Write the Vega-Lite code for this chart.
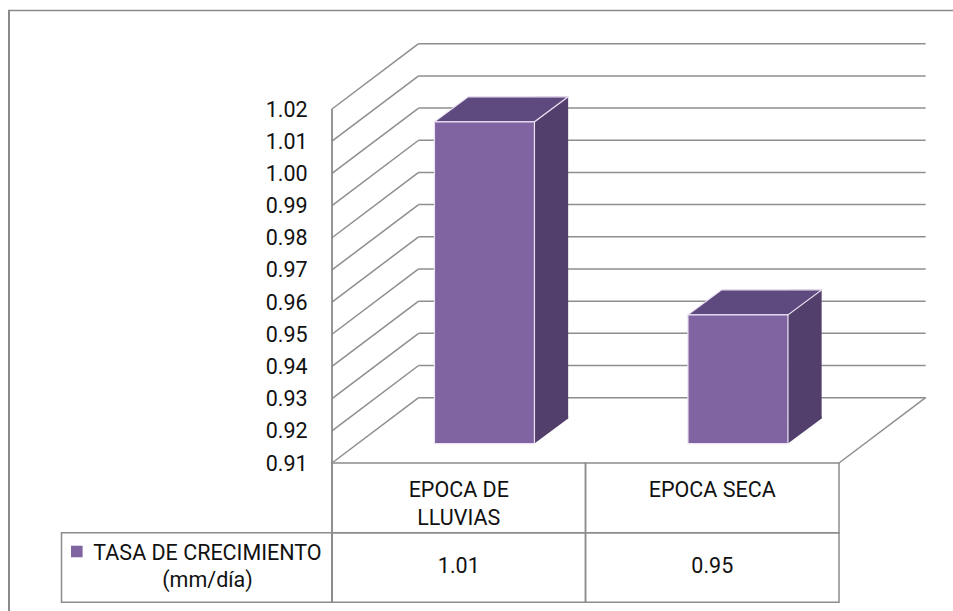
{
  "$schema": "https://vega.github.io/schema/vega-lite/v6.json",
  "width": 507,
  "height": 354,
  "autosize": {"type": "none"},
  "padding": {"left": 332, "top": 109, "right": 114, "bottom": 148},
  "background": "white",
  "config": {
    "view": {"stroke": null},
    "font": "Roboto"
  },
  "datasets": {
    "tasa": [
      {"epoca": "EPOCA DE LLUVIAS", "tasa": 1.01},
      {"epoca": "EPOCA SECA", "tasa": 0.95}
    ],
    "marcas": [
      {"v": 0.91}, {"v": 0.92}, {"v": 0.93}, {"v": 0.94}, {"v": 0.95}, {"v": 0.96},
      {"v": 0.97}, {"v": 0.98}, {"v": 0.99}, {"v": 1.0}, {"v": 1.01}, {"v": 1.02}
    ]
  },
  "layer": [
    {
      "description": "outer frame, left edge",
      "data": {"values": [{}]},
      "mark": {"type": "rule", "color": "#8a8a8a", "strokeWidth": 2, "xOffset": -323, "x2Offset": -323, "yOffset": -99, "y2Offset": 148},
      "encoding": {
        "x": {"datum": "EPOCA DE LLUVIAS", "bandPosition": 0, "scale": {"type": "band", "domain": ["EPOCA DE LLUVIAS", "EPOCA SECA"], "paddingInner": 0, "paddingOuter": 0}, "axis": null},
        "y": {"datum": 1.02, "scale": {"domain": [0.91, 1.02], "zero": false, "nice": false}, "axis": null},
        "y2": {"datum": 0.91}
      }
    },
    {
      "description": "outer frame, top edge",
      "data": {"values": [{}]},
      "mark": {"type": "rule", "color": "#8a8a8a", "strokeWidth": 1.5, "xOffset": -324, "x2Offset": 114, "yOffset": -98.5},
      "encoding": {
        "x": {"datum": "EPOCA DE LLUVIAS", "bandPosition": 0, "axis": null},
        "x2": {"datum": "EPOCA SECA", "bandPosition": 1},
        "y": {"datum": 1.02, "axis": null}
      }
    },
    {
      "description": "back wall gridlines",
      "data": {"name": "marcas"},
      "mark": {"type": "rule", "color": "#8e8e8e", "strokeWidth": 1.5, "xOffset": 86.6, "x2Offset": 86.6, "yOffset": -65.3},
      "encoding": {
        "x": {"datum": "EPOCA DE LLUVIAS", "bandPosition": 0, "axis": null},
        "x2": {"datum": "EPOCA SECA", "bandPosition": 1},
        "y": {"field": "v", "type": "quantitative", "axis": null}
      }
    },
    {
      "description": "side wall gridlines, running back in depth",
      "data": {"name": "marcas"},
      "mark": {"type": "rule", "color": "#8e8e8e", "strokeWidth": 1.5, "x2Offset": 86.6, "y2Offset": -65.3},
      "encoding": {
        "x": {"datum": "EPOCA DE LLUVIAS", "bandPosition": 0, "axis": null},
        "x2": {"datum": "EPOCA DE LLUVIAS", "bandPosition": 0},
        "y": {"field": "v", "type": "quantitative", "axis": null},
        "y2": {"field": "v"}
      }
    },
    {
      "description": "floor, right edge",
      "data": {"values": [{}]},
      "mark": {"type": "rule", "color": "#8e8e8e", "strokeWidth": 1.5, "x2Offset": 86.6, "y2Offset": -65.3},
      "encoding": {
        "x": {"datum": "EPOCA SECA", "bandPosition": 1, "axis": null},
        "x2": {"datum": "EPOCA SECA", "bandPosition": 1},
        "y": {"datum": 0.91, "axis": null},
        "y2": {"datum": 0.91}
      }
    },
    {
      "description": "front vertical edge, continuing down through the table",
      "data": {"values": [{}]},
      "mark": {"type": "rule", "color": "#8a8a8a", "strokeWidth": 1.8, "y2Offset": 139.3},
      "encoding": {
        "x": {"datum": "EPOCA DE LLUVIAS", "bandPosition": 0, "axis": null},
        "y": {"datum": 1.02, "axis": null},
        "y2": {"datum": 0.91}
      }
    },
    {
      "description": "data table: category header cells",
      "data": {"name": "tasa"},
      "mark": {"type": "rect", "fill": "transparent", "stroke": "#8c8c8c", "strokeWidth": 1.5, "yOffset": 0, "y2Offset": 69.7},
      "encoding": {
        "x": {"field": "epoca", "type": "nominal", "axis": null},
        "y": {"datum": 0.91, "axis": null},
        "y2": {"datum": 0.91}
      }
    },
    {
      "description": "data table: value cells",
      "data": {"name": "tasa"},
      "mark": {"type": "rect", "fill": "transparent", "stroke": "#8c8c8c", "strokeWidth": 1.5, "yOffset": 69.7, "y2Offset": 139.3},
      "encoding": {
        "x": {"field": "epoca", "type": "nominal", "axis": null},
        "y": {"datum": 0.91, "axis": null},
        "y2": {"datum": 0.91}
      }
    },
    {
      "description": "data table: series key cell",
      "data": {"values": [{}]},
      "mark": {"type": "rect", "fill": "transparent", "stroke": "#8c8c8c", "strokeWidth": 1.5, "xOffset": -270.5, "yOffset": 69.7, "y2Offset": 139.3},
      "encoding": {
        "x": {"datum": "EPOCA DE LLUVIAS", "bandPosition": 0, "axis": null},
        "x2": {"datum": "EPOCA DE LLUVIAS", "bandPosition": 0},
        "y": {"datum": 0.91, "axis": null},
        "y2": {"datum": 0.91}
      }
    },
    {
      "description": "bar side face, main strip",
      "data": {"name": "tasa"},
      "mark": {"type": "bar", "fill": "#523f6b", "opacity": 1, "width": 33.7, "xOffset": 92.55, "yOffset": -44.4, "y2Offset": -44.4},
      "encoding": {
        "x": {"field": "epoca", "type": "nominal", "axis": null},
        "y": {"field": "tasa", "type": "quantitative", "axis": null},
        "y2": {"datum": 0.91}
      }
    },
    {
      "description": "bar side face, lower corner",
      "data": {"name": "tasa"},
      "mark": {"type": "point", "shape": "M75.7,-46.5L109.4,-46.5L109.4,-44.4L75.7,-19.4Z", "size": 4, "filled": true, "fill": "#523f6b", "strokeWidth": 0, "opacity": 1},
      "encoding": {
        "x": {"field": "epoca", "type": "nominal", "axis": null},
        "y": {"datum": 0.91, "axis": null}
      }
    },
    {
      "description": "bar top face",
      "data": {"name": "tasa"},
      "mark": {"type": "point", "shape": "M-24.3,-19.4L75.7,-19.4L109.4,-44.4L9.4,-44.4Z", "size": 4, "filled": true, "fill": "#5f4a7f", "stroke": "#ece2f3", "strokeWidth": 1.2, "opacity": 1},
      "encoding": {
        "x": {"field": "epoca", "type": "nominal", "axis": null},
        "y": {"field": "tasa", "type": "quantitative", "axis": null}
      }
    },
    {
      "description": "bar front face",
      "data": {"name": "tasa"},
      "mark": {"type": "bar", "fill": "#8064a2", "stroke": "#ece2f3", "strokeWidth": 1.2, "opacity": 1, "width": 100, "xOffset": 25.7, "yOffset": -19.4, "y2Offset": -19.4},
      "encoding": {
        "x": {"field": "epoca", "type": "nominal", "axis": null},
        "y": {"field": "tasa", "type": "quantitative", "axis": null},
        "y2": {"datum": 0.91}
      }
    },
    {
      "description": "value axis labels",
      "data": {"name": "marcas"},
      "mark": {"type": "text", "font": "Roboto", "fontSize": 21.5, "color": "#111111", "align": "right", "baseline": "middle", "xOffset": -24.3, "yOffset": 1.5},
      "encoding": {
        "x": {"datum": "EPOCA DE LLUVIAS", "bandPosition": 0, "axis": null},
        "y": {"field": "v", "type": "quantitative", "axis": null},
        "text": {"field": "v", "type": "quantitative", "format": ".2f"}
      }
    },
    {
      "description": "data table: category header, rainy season",
      "data": {"values": [{}]},
      "mark": {"type": "text", "font": "Roboto", "fontSize": 21.5, "color": "#111111", "align": "center", "baseline": "alphabetic", "lineHeight": 28.8, "yOffset": 33.7},
      "encoding": {
        "x": {"datum": "EPOCA DE LLUVIAS", "axis": null},
        "y": {"datum": 0.91, "axis": null},
        "text": {"value": ["EPOCA DE", "LLUVIAS"]}
      }
    },
    {
      "description": "data table: category header, dry season",
      "data": {"values": [{}]},
      "mark": {"type": "text", "font": "Roboto", "fontSize": 21.5, "color": "#111111", "align": "center", "baseline": "alphabetic", "yOffset": 33.7},
      "encoding": {
        "x": {"datum": "EPOCA SECA", "axis": null},
        "y": {"datum": 0.91, "axis": null},
        "text": {"value": "EPOCA SECA"}
      }
    },
    {
      "description": "data table: values",
      "data": {"name": "tasa"},
      "mark": {"type": "text", "font": "Roboto", "fontSize": 21.5, "color": "#111111", "align": "center", "baseline": "alphabetic", "yOffset": 110},
      "encoding": {
        "x": {"field": "epoca", "type": "nominal", "axis": null},
        "y": {"datum": 0.91, "axis": null},
        "text": {"field": "tasa", "type": "quantitative", "format": ".2f"}
      }
    },
    {
      "description": "data table: series key swatch",
      "data": {"values": [{}]},
      "mark": {"type": "point", "shape": "square", "size": 134, "filled": true, "fill": "#8064a2", "strokeWidth": 0, "opacity": 1, "xOffset": -255.2, "yOffset": 88.5},
      "encoding": {
        "x": {"datum": "EPOCA DE LLUVIAS", "bandPosition": 0, "axis": null},
        "y": {"datum": 0.91, "axis": null}
      }
    },
    {
      "description": "data table: series name",
      "data": {"values": [{}]},
      "mark": {"type": "text", "font": "Roboto", "fontSize": 21.5, "color": "#111111", "align": "center", "baseline": "alphabetic", "lineHeight": 27, "xOffset": -124.5, "yOffset": 97},
      "encoding": {
        "x": {"datum": "EPOCA DE LLUVIAS", "bandPosition": 0, "axis": null},
        "y": {"datum": 0.91, "axis": null},
        "text": {"value": ["TASA DE CRECIMIENTO", "(mm/día)"]}
      }
    }
  ]
}
